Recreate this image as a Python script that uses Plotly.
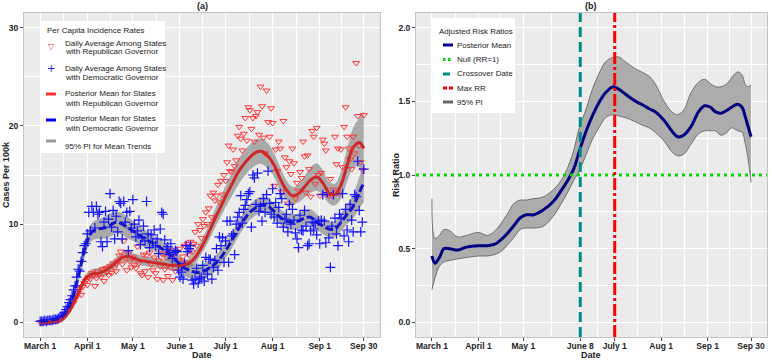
import pandas as pd
import plotly.graph_objects as go

START = pd.Timestamp("2020-03-01")
FONT = "Liberation Sans, Arial, sans-serif"

# ---------------- Panel (a): daily per-capita incidence (day 0 = March 1) ----------------
rep_daily = [
    0.0, 0.0, 0.0, 0.1, 0.0, 0.1, 0.1,
    0.1, 0.1, 0.2, 0.1, 0.2, 0.2, 0.3,
    0.3, 0.5, 0.6, 0.8, 1.0, 1.3, 1.5,
    1.8, 2.0, 2.4, 2.6, 3.0, 3.4, 2.8,
    3.6, 4.0, 4.2, 3.8, 4.6, 4.4, 5.0,
    4.8, 3.7, 4.5, 5.2, 4.9, 4.6, 5.4,
    4.2, 5.5, 5.1, 4.8, 5.7, 5.0, 6.0,
    5.6, 5.2, 6.2, 6.8, 7.2, 5.9, 8.3,
    6.5, 5.3, 7.0, 6.2, 5.6, 6.6, 5.8,
    5.5, 7.7, 6.0, 5.0, 4.8, 6.9, 5.2,
    6.8, 4.6, 7.1, 5.9, 5.3, 6.6, 5.0,
    4.4, 6.3, 5.7, 7.0, 4.3, 5.4, 6.6,
    4.7, 7.4, 5.6, 4.3, 6.9, 5.2, 7.2,
    6.3, 7.5, 5.6, 6.7, 7.8, 6.1, 8.0,
    6.9, 8.2, 7.2, 8.0, 9.2, 7.8, 10.0,
    9.4, 8.6, 10.5, 9.8, 11.2, 10.0, 11.6,
    12.9, 10.7, 13.2, 12.4, 12.9, 14.0, 12.2,
    14.4, 13.0, 15.0, 14.4, 16.3, 18.0, 15.4,
    15.3, 17.6, 15.9, 16.5, 19.0, 19.9, 18.7,
    17.5, 19.2, 20.8, 18.5, 21.9, 21.6, 19.7,
    20.8, 18.4, 21.0, 21.4, 19.1, 24.0, 22.0,
    18.8, 17.2, 23.6, 20.4, 18.9, 21.8, 20.3,
    13.9, 17.6, 15.4, 18.4, 17.7, 13.3, 20.5,
    16.8, 15.8, 12.1, 16.4, 15.1, 17.7, 16.2,
    12.6, 14.2, 13.4, 15.3, 14.7, 18.4, 16.9,
    13.2, 17.0, 15.6, 12.8, 19.5, 18.9, 14.1,
    19.8, 15.0, 12.9, 15.2, 18.6, 18.2, 17.5,
    13.0, 12.9, 14.6, 12.9, 13.5, 18.9, 16.1,
    17.7, 13.1, 17.6, 15.8, 19.9, 21.9, 18.9,
    17.7, 16.6, 15.6, 18.9, 17.2, 26.4, 21.0,
    18.0, 16.3, 15.5, 21.1,
]

dem_daily = [
    0.1, 0.1, 0.1, 0.2, 0.1, 0.2, 0.2,
    0.2, 0.2, 0.3, 0.3, 0.3, 0.4, 0.5,
    0.6, 0.7, 1.0, 1.3, 1.6, 2.0, 2.3,
    2.7, 3.3, 3.7, 4.6, 5.4, 5.2, 6.2,
    7.1, 7.8, 8.0, 9.0, 11.2, 9.3, 11.8,
    11.2, 9.6, 11.8, 11.0, 11.2, 8.2, 7.7,
    10.2, 11.3, 8.2, 10.5, 13.1, 9.7, 11.4,
    8.5, 10.8, 9.2, 12.3, 12.1, 8.5, 12.3,
    10.2, 11.2, 7.3, 11.3, 9.6, 12.5, 10.0,
    8.7, 9.3, 10.4, 7.9, 8.6, 9.8, 8.3,
    12.3, 9.0, 7.6, 8.9, 8.1, 9.4, 7.8,
    8.5, 7.0, 9.5, 11.2, 11.0, 8.4, 7.4,
    7.7, 6.9, 8.0, 6.5, 7.1, 7.3, 7.2,
    5.3, 4.6, 5.1, 4.4, 6.0, 7.8, 7.2,
    7.5, 7.8, 4.3, 3.9, 4.4, 5.5, 4.0,
    4.4, 4.6, 5.8, 4.2, 6.6, 4.9, 6.4,
    6.4, 4.4, 5.6, 6.3, 7.5, 5.3, 8.7,
    7.8, 8.6, 6.1, 8.3, 10.3, 6.1, 10.3,
    8.8, 9.0, 6.9, 10.0, 10.7, 11.2, 12.9,
    10.1, 11.5, 11.9, 12.5, 13.1, 13.3, 9.7,
    15.0, 14.7, 12.0, 15.2, 11.3, 11.8, 10.3,
    12.6, 11.2, 13.0, 15.4, 12.1, 11.0, 13.6,
    10.7, 12.2, 10.1, 11.7, 13.1, 12.6, 9.7,
    10.5, 11.0, 9.2, 12.0, 10.0, 11.5, 10.4,
    9.1, 8.5, 7.6, 10.9, 9.4, 9.3, 11.4,
    9.8, 7.8, 8.0, 9.3, 10.2, 9.5, 10.1,
    8.9, 10.3, 8.0, 10.4, 13.0, 10.3, 8.1,
    13.2, 8.6, 5.6, 9.8, 13.0, 10.6, 9.0,
    7.8, 11.0, 10.6, 13.1, 8.8, 11.5, 9.4,
    8.2, 12.0, 10.4, 9.2, 13.0, 12.8, 16.4,
    11.4, 9.2, 10.2, 15.6,
]

# Posterior mean trends and 95% PI (knot days, offset from March 1)
trend_days = [0, 7, 14, 18, 22, 26, 30, 34, 38, 42, 46, 50, 54, 58, 62, 66, 70, 74,
              78, 82, 86, 90, 94, 98, 102, 106, 110, 114, 118, 122, 126, 130, 134,
              138, 142, 146, 150, 154, 158, 162, 166, 170, 174, 178, 182, 186, 190,
              194, 198, 202, 206, 210, 213]
rep_mean = [0.0, 0.05, 0.3, 0.9, 2.0, 3.3, 4.5, 4.9, 5.0, 5.2, 5.6, 6.1, 6.6, 6.7,
            6.5, 6.3, 6.2, 6.1, 6.0, 5.9, 5.8, 5.8, 5.8, 6.0, 6.6, 7.6, 8.8, 10.2,
            11.5, 12.8, 14.0, 15.2, 16.1, 16.8, 17.3, 17.4, 16.9, 16.0, 14.6, 13.5,
            12.9, 13.1, 13.8, 14.5, 14.8, 14.2, 13.2, 13.0, 14.0, 16.0, 17.8, 18.3, 17.7]
rep_upper = [0.2, 0.25, 0.5, 1.2, 2.4, 3.7, 4.9, 5.4, 5.5, 5.7, 6.1, 6.6, 7.1, 7.3,
             7.0, 6.8, 6.7, 6.6, 6.5, 6.4, 6.3, 6.3, 6.3, 6.5, 7.2, 8.3, 9.6, 11.1,
             12.5, 13.9, 15.2, 16.5, 17.4, 18.1, 18.6, 18.7, 18.2, 17.2, 15.8, 14.5,
             13.8, 14.0, 14.9, 15.8, 16.2, 15.5, 14.3, 14.1, 15.4, 17.7, 19.8, 20.8, 21.5]
rep_lower = [-0.2, -0.15, 0.1, 0.6, 1.6, 2.9, 4.1, 4.4, 4.5, 4.7, 5.1, 5.6, 6.1, 6.1,
             6.0, 5.8, 5.7, 5.6, 5.5, 5.4, 5.3, 5.3, 5.3, 5.5, 6.0, 6.9, 8.0, 9.3,
             10.5, 11.7, 12.8, 13.9, 14.8, 15.5, 16.0, 16.1, 15.6, 14.8, 13.4, 12.5,
             12.0, 12.2, 12.7, 13.2, 13.4, 12.9, 12.1, 11.9, 12.6, 14.3, 15.8, 15.8, 14.1]
dem_mean = [0.1, 0.2, 0.5, 1.3, 2.8, 5.3, 7.8, 9.2, 9.5, 9.6, 9.9, 10.2, 10.0, 9.6,
            9.2, 8.8, 8.4, 8.1, 7.7, 7.3, 6.8, 6.2, 5.6, 5.3, 5.1, 5.1, 5.4, 5.8,
            6.4, 7.3, 8.3, 9.4, 10.4, 11.2, 11.7, 12.0, 11.8, 11.3, 10.7, 10.3,
            10.2, 10.3, 10.6, 10.7, 10.2, 9.8, 9.5, 9.5, 10.2, 11.0, 11.8, 13.2, 14.2]
dem_upper = [0.3, 0.4, 0.8, 1.7, 3.3, 6.0, 8.6, 10.1, 10.5, 10.7, 11.1, 11.3, 11.1, 10.7,
             10.2, 9.7, 9.3, 8.9, 8.5, 8.1, 7.6, 7.0, 6.4, 6.1, 5.9, 5.9, 6.2, 6.6,
             7.2, 8.1, 9.1, 10.2, 11.2, 12.0, 12.5, 12.8, 12.6, 12.1, 11.5, 11.1,
             11.0, 11.1, 11.4, 11.5, 11.0, 10.6, 10.3, 10.3, 11.1, 12.0, 13.0, 14.8, 16.0]
dem_lower = [-0.1, 0.0, 0.2, 0.9, 2.3, 4.6, 7.0, 8.3, 8.5, 8.5, 8.7, 9.1, 8.9, 8.5,
             8.2, 7.9, 7.5, 7.3, 6.9, 6.5, 6.0, 5.4, 4.8, 4.5, 4.3, 4.3, 4.6, 5.0,
             5.6, 6.5, 7.5, 8.6, 9.6, 10.4, 10.9, 11.2, 11.0, 10.5, 9.9, 9.5,
             9.4, 9.5, 9.8, 9.9, 9.4, 9.0, 8.7, 8.7, 9.3, 10.0, 10.6, 11.6, 12.2]

# ---------------- Panel (b): adjusted risk ratios ----------------
rr_days = [0, 2, 5, 8, 12, 17, 23, 31, 37, 42, 46, 50, 55, 59, 63, 68, 74, 81, 86, 91,
           95, 98, 103, 107, 112, 116, 121, 125, 129, 136, 140, 145, 149, 155, 160,
           164, 168, 173, 178, 182, 186, 189, 193, 197, 200, 204, 207, 209, 211, 213]
rr_mean = [0.45, 0.40, 0.44, 0.50, 0.50, 0.49, 0.51, 0.52, 0.52, 0.53, 0.56, 0.60, 0.66,
           0.71, 0.73, 0.73, 0.76, 0.82, 0.89, 0.97, 1.05, 1.15, 1.30, 1.40, 1.50, 1.56,
           1.60, 1.58, 1.55, 1.50, 1.48, 1.45, 1.43, 1.37, 1.30, 1.26, 1.27, 1.33, 1.43,
           1.47, 1.46, 1.43, 1.42, 1.44, 1.46, 1.48, 1.46, 1.40, 1.33, 1.26]
rr_upper = [0.84, 0.57, 0.59, 0.63, 0.62, 0.58, 0.59, 0.61, 0.59, 0.62, 0.67, 0.73, 0.81,
            0.83, 0.83, 0.84, 0.85, 0.90, 0.96, 1.06, 1.18, 1.31, 1.45, 1.58, 1.70, 1.77,
            1.80, 1.80, 1.77, 1.72, 1.70, 1.67, 1.62, 1.50, 1.43, 1.41, 1.44, 1.56, 1.63,
            1.65, 1.62, 1.60, 1.60, 1.62, 1.66, 1.70, 1.68, 1.62, 1.60, 1.61]
rr_lower = [0.22, 0.30, 0.38, 0.41, 0.42, 0.43, 0.44, 0.45, 0.45, 0.46, 0.48, 0.52, 0.58,
            0.63, 0.64, 0.64, 0.65, 0.72, 0.80, 0.89, 0.97, 1.02, 1.14, 1.24, 1.33, 1.39,
            1.41, 1.40, 1.39, 1.36, 1.34, 1.32, 1.29, 1.23, 1.16, 1.13, 1.14, 1.21, 1.28,
            1.30, 1.30, 1.30, 1.27, 1.29, 1.32, 1.30, 1.29, 1.22, 1.11, 0.95]

NULL_RR = 1.0
CROSSOVER_DATE = "2020-06-08"
MAX_RR_DATE = "2020-07-01"

ticks_a = ["2020-03-01", "2020-04-01", "2020-05-01", "2020-06-01", "2020-07-01",
           "2020-08-01", "2020-09-01", "2020-09-30"]
labels_a = ["March 1", "April 1", "May 1", "June 1", "July 1", "Aug 1", "Sep 1", "Sep 30"]
ticks_b = ["2020-03-01", "2020-04-01", "2020-05-01", "2020-06-08", "2020-07-01",
           "2020-08-01", "2020-09-01", "2020-09-30"]
labels_b = ["March 1", "April 1", "May 1", "June 8", "July 1", "Aug 1", "Sep 1", "Sep 30"]

legend_a_title = "Per Capita Incidence Rates"
legend_a_items = [
    ["Daily Average Among States", "with Republican Governor"],
    ["Daily Average Among States", "with Democratic Governor"],
    ["Posterior Mean for States", "with Republican Governor"],
    ["Posterior Mean for States", "with Democratic Governor"],
    ["95% PI for Mean Trends"],
]
legend_b_title = "Adjusted Risk Ratios"
legend_b_items = ["Posterior Mean", "Null (RR=1)", "Crossover Date", "Max RR", "95% PI"]

# colours / styles
C_REP_PT = "rgb(255,55,55)"
C_DEM_PT = "rgb(20,20,255)"
C_REP_LN = "rgb(205,40,40)"
C_DEM_LN = "rgb(20,20,200)"
C_NAVY = "rgb(0,0,128)"
C_GREEN = "rgb(0,220,0)"
C_TEAL = "rgb(0,139,139)"
C_RED = "rgb(255,0,0)"


def to_dates(days):
    return [START + pd.Timedelta(days=d) for d in days]


def midpoints(ticks):
    t = [pd.Timestamp(s) for s in ticks]
    return [t[i] + (t[i + 1] - t[i]) / 2 for i in range(len(t) - 1)]


daily_dates = to_dates(range(len(rep_daily)))
trend_dates = to_dates(trend_days)
rr_dates = to_dates(rr_days)

fig = go.Figure()

band_fill = "rgba(115,115,115,0.55)"
for lo, hi in [(rep_lower, rep_upper), (dem_lower, dem_upper)]:
    fig.add_trace(go.Scatter(x=trend_dates, y=lo, mode="lines", line=dict(width=0, shape="spline"),
                             showlegend=False, hoverinfo="skip", xaxis="x", yaxis="y"))
    fig.add_trace(go.Scatter(x=trend_dates, y=hi, mode="lines", line=dict(width=0, shape="spline"),
                             fill="tonexty", fillcolor=band_fill, showlegend=False,
                             hoverinfo="skip", xaxis="x", yaxis="y"))

fig.add_trace(go.Scatter(
    x=daily_dates, y=rep_daily, mode="markers", xaxis="x", yaxis="y", showlegend=False,
    marker=dict(symbol="triangle-down-open", size=6, color=C_REP_PT, line=dict(width=1))))
fig.add_trace(go.Scatter(
    x=daily_dates, y=dem_daily, mode="markers", xaxis="x", yaxis="y", showlegend=False,
    marker=dict(symbol="cross-thin-open", size=7, color=C_DEM_PT, line=dict(width=1.2, color=C_DEM_PT))))
fig.add_trace(go.Scatter(
    x=trend_dates, y=rep_mean, mode="lines", xaxis="x", yaxis="y", showlegend=False,
    line=dict(color=C_REP_LN, width=3, shape="spline")))
fig.add_trace(go.Scatter(
    x=trend_dates, y=dem_mean, mode="lines", xaxis="x", yaxis="y", showlegend=False,
    line=dict(color=C_DEM_LN, width=3, shape="spline", dash="8px,3px")))

# Panel (b)
fig.add_trace(go.Scatter(x=rr_dates, y=rr_lower, mode="lines", xaxis="x2", yaxis="y2",
                         line=dict(width=0.8, color="rgb(90,90,90)", shape="spline"),
                         showlegend=False, hoverinfo="skip"))
fig.add_trace(go.Scatter(x=rr_dates, y=rr_upper, mode="lines", xaxis="x2", yaxis="y2",
                         line=dict(width=0.8, color="rgb(90,90,90)", shape="spline"),
                         fill="tonexty", fillcolor="rgb(172,172,172)", showlegend=False,
                         hoverinfo="skip"))
fig.add_trace(go.Scatter(x=rr_dates, y=rr_mean, mode="lines", xaxis="x2", yaxis="y2",
                         showlegend=False, line=dict(color=C_NAVY, width=3, shape="spline")))

fig.add_shape(type="line", xref="x2 domain", yref="y2", x0=0, x1=1, y0=NULL_RR, y1=NULL_RR,
              line=dict(color=C_GREEN, width=3, dash="3px,4px"))
fig.add_shape(type="line", xref="x2", yref="y2 domain", x0=CROSSOVER_DATE, x1=CROSSOVER_DATE, y0=0, y1=1,
              line=dict(color=C_TEAL, width=3, dash="10px,5px"))
fig.add_shape(type="line", xref="x2", yref="y2 domain", x0=MAX_RR_DATE, x1=MAX_RR_DATE, y0=0, y1=1,
              line=dict(color=C_RED, width=3, dash="12px,3px,3px,3px"))

W, H = 772, 360
xrange = [START - pd.Timedelta(days=10.65), pd.Timestamp("2020-09-30") + pd.Timedelta(days=10.65)]
tickfont = dict(family=FONT, size=8.5, color="#222", weight="bold")

common_x = dict(type="date", range=xrange, showgrid=True, gridcolor="white", gridwidth=1.3,
                ticks="outside", ticklen=3, tickcolor="#444", tickfont=tickfont, automargin=False,
                ticklabelstandoff=-2,
                showline=True, linecolor="#c4c4c4", mirror=True, zeroline=False)
common_y = dict(showgrid=True, gridcolor="white", gridwidth=1.3, ticks="outside", ticklen=3,
                tickcolor="#444", tickfont=tickfont, showline=True, linecolor="#c4c4c4",
                mirror=True, zeroline=False, automargin=False)

fig.update_layout(
    width=W, height=H, margin=dict(l=0, r=0, t=0, b=0),
    paper_bgcolor="white", plot_bgcolor="#ebebeb", showlegend=False,
    font=dict(family=FONT, color="#222"),
    xaxis=dict(domain=[24 / W, 380 / W], anchor="y", tickmode="array", tickvals=ticks_a, ticktext=labels_a,
               minor=dict(tickmode="array", tickvals=midpoints(ticks_a), showgrid=True,
                          gridcolor="white", gridwidth=0.6, ticks=""), **common_x),
    yaxis=dict(domain=[1 - 337 / H, 1 - 13 / H], anchor="x", range=[-1.5, 31.5],
               tickmode="array", tickvals=[0, 10, 20, 30],
               minor=dict(tickmode="array", tickvals=[5, 15, 25], showgrid=True,
                          gridcolor="white", gridwidth=0.6, ticks=""), **common_y),
    xaxis2=dict(domain=[416 / W, 767 / W], anchor="y2", tickmode="array", tickvals=ticks_b, ticktext=labels_b,
                minor=dict(tickmode="array", tickvals=midpoints(ticks_b), showgrid=True,
                           gridcolor="white", gridwidth=0.6, ticks=""), **common_x),
    yaxis2=dict(domain=[1 - 337 / H, 1 - 13 / H], anchor="x2", range=[-0.1, 2.1],
                tickmode="array", tickvals=[0, 0.5, 1.0, 1.5, 2.0],
                ticktext=["0.0", "0.5", "1.0", "1.5", "2.0"],
                minor=dict(tickmode="array", tickvals=[0.25, 0.75, 1.25, 1.75], showgrid=True,
                           gridcolor="white", gridwidth=0.6, ticks=""), **common_y),
)

title_font = dict(family=FONT, size=9, color="#222", weight="bold")
annotations = [
    dict(text="(a)", x=202 / W, y=1 - 6 / H),
    dict(text="(b)", x=591 / W, y=1 - 6 / H),
    dict(text="Date", x=202 / W, y=1 - 355 / H),
    dict(text="Date", x=591 / W, y=1 - 355 / H),
    dict(text="Cases Per 100k", x=6 / W, y=1 - 175 / H, textangle=-90),
    dict(text="Risk Ratio", x=396 / W, y=1 - 175 / H, textangle=-90),
]
for a in annotations:
    fig.add_annotation(xref="paper", yref="paper", showarrow=False, xanchor="center",
                       yanchor="middle", font=title_font, **a)


# ---------------- legends (drawn in pixel positions of the figure) ----------------
def px(x):
    return x / W


def py(y):
    return 1 - y / H


def leg_box(x0, y0, x1, y1):
    fig.add_shape(type="rect", xref="paper", yref="paper", x0=px(x0), x1=px(x1),
                  y0=py(y1), y1=py(y0), fillcolor="white", line=dict(width=0), layer="above")


def leg_line(x0, x1, y, color, dash="solid", width=3):
    fig.add_shape(type="line", xref="paper", yref="paper", x0=px(x0), x1=px(x1),
                  y0=py(y), y1=py(y), line=dict(color=color, width=width, dash=dash), layer="above")


def leg_text(x, y, s, size=8, color="#1a1a1a", family=FONT, anchor="left"):
    fig.add_annotation(xref="paper", yref="paper", x=px(x), y=py(y), text=s, showarrow=False,
                       xanchor=anchor, yanchor="middle", font=dict(family=family, size=size, color=color))


# legend (a)
leg_box(40, 21, 165, 153)
leg_text(45, 30, legend_a_title)
rows_a = [(43, 52), (68, 77), (94, 103), (119, 128), (146,)]
for lines, rows in zip(legend_a_items, rows_a):
    for s, y in zip(lines, rows):
        leg_text(63, y, s)
leg_text(51, 46, "▽", size=8, color=C_REP_PT, family="DejaVu Sans", anchor="center")
leg_text(51, 68.5, "+", size=10, color=C_DEM_PT, family="DejaVu Sans", anchor="center")
leg_line(46, 56, 94, "rgb(255,50,50)")
leg_line(46, 56, 120, "rgb(0,0,255)")
leg_line(46, 56, 141, "rgb(155,155,155)")

# legend (b)
leg_box(431, 18, 515, 113)
leg_text(437, 31, legend_b_title)
rows_b = [45, 59.5, 74, 88, 102]
for s, y in zip(legend_b_items, rows_b):
    leg_text(455, y, s)
leg_line(443, 453, rows_b[0], C_NAVY)
leg_line(443, 453, rows_b[1], C_GREEN, dash="2.5px,2.5px")
leg_line(443, 453, rows_b[2], C_TEAL, dash="7px,4px")
leg_line(443, 453, rows_b[3], C_RED, dash="4px,2px")
leg_line(443, 453, rows_b[4], "rgb(100,100,100)")

# The page body has a default 8px margin; remove it so the figure sits at the window origin.
fig.write_html("out.html", config={"displayModeBar": False},
               post_script="document.body.style.margin='0';")
